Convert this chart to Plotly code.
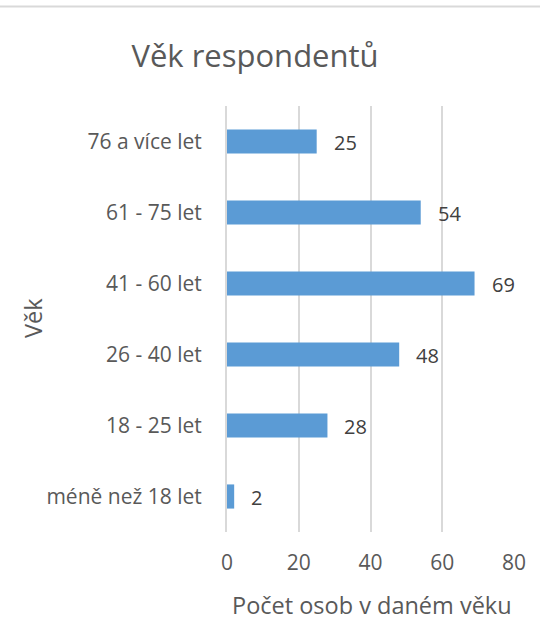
import plotly.graph_objects as go

categories = ["méně než 18 let", "18 - 25 let", "26 - 40 let", "41 - 60 let", "61 - 75 let", "76 a více let"]
values = [2, 28, 48, 69, 54, 25]
x_ticks = [0, 20, 40, 60, 80]

TEXT = "#595959"
LABEL = "#404040"
FONT = "Open Sans"

fig = go.Figure()
fig.add_trace(go.Bar(
    x=values, y=categories, orientation="h",
    marker=dict(color="#5B9BD5", line=dict(width=0)),
    hoverinfo="skip",
))
for c, v in zip(categories, values):
    fig.add_annotation(x=v, y=c, text=str(v), showarrow=False, xanchor="left",
                       xshift=15, yshift=-1, font=dict(family=FONT, size=20, color=LABEL))

W, H = 540, 641
L, R, T, B = 227, 26, 106, 109
pw, ph = W - L - R, H - T - B
fig.add_shape(type="line", xref="paper", yref="paper",
              x0=-L / pw, x1=1 + R / pw, y0=1 + (T - 6.5) / ph, y1=1 + (T - 6.5) / ph,
              line=dict(color="#D9D9D9", width=2))

# axis titles as annotations for precise placement
fig.add_annotation(xref="paper", yref="paper", x=(372 - L) / pw, y=-(605 - (H - B)) / ph,
                   text="Počet osob v daném věku", showarrow=False,
                   xanchor="center", yanchor="middle",
                   font=dict(family=FONT, size=23.5, color=TEXT))
fig.add_annotation(xref="paper", yref="paper", x=-(L - 33) / pw, y=(H - B - 318) / ph,
                   text="Věk", showarrow=False, textangle=-90,
                   xanchor="center", yanchor="middle",
                   font=dict(family=FONT, size=23.5, color=TEXT))

fig.update_layout(
    width=W, height=H,
    margin=dict(l=L, r=R, t=T, b=B),
    paper_bgcolor="white", plot_bgcolor="white",
    bargap=0.66,
    showlegend=False,
    title=dict(text="Věk respondentů", x=(255 - L) / pw, xref="paper", xanchor="center",
               y=1 - 56 / H, yanchor="middle",
               font=dict(family=FONT, size=31, color=TEXT)),
    font=dict(family=FONT, color=TEXT),
    xaxis=dict(range=[0, 80], tickvals=x_ticks, showgrid=True, gridcolor="#D9D9D9",
               gridwidth=2, zeroline=False, showline=False,
               tickfont=dict(family=FONT, size=21, color=TEXT), ticks="",
               ticklabelstandoff=16),
    yaxis=dict(categoryorder="array", categoryarray=categories, showgrid=False,
               showline=True, linecolor="#D9D9D9", linewidth=2, zeroline=False,
               ticks="", ticklabelstandoff=19,
               tickfont=dict(family=FONT, size=21, color=TEXT)),
)
fig.write_html("out.html", config={"displayModeBar": False},
               post_script="document.body.style.margin='0';document.body.style.padding='0';")
